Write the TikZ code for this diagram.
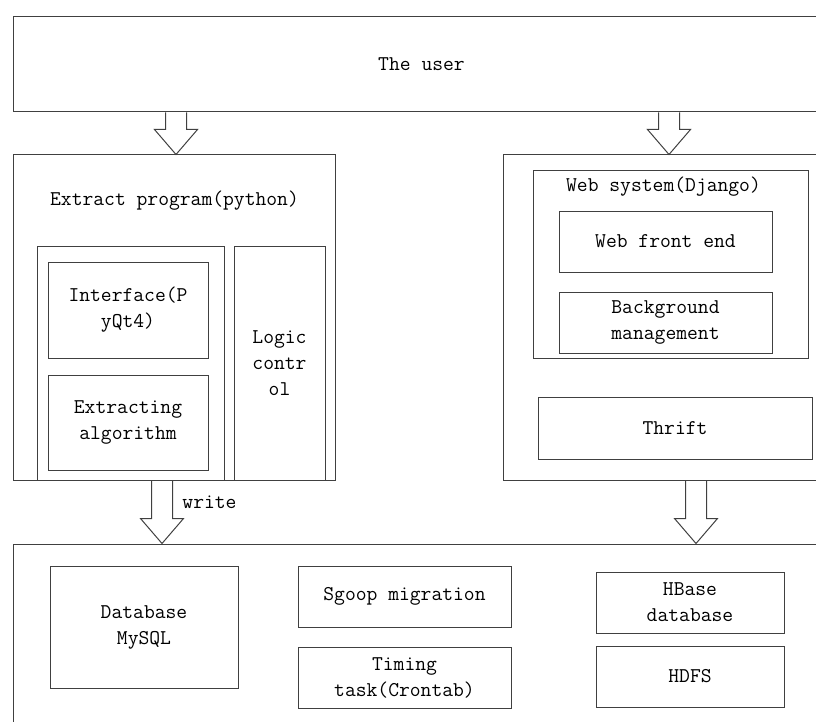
\documentclass[tikz,border=0pt]{standalone}
\usetikzlibrary{positioning,calc}

\begin{document}
\begin{tikzpicture}[x=1pt,y=-1pt,node distance=19pt,line width=1pt,
every node/.style={font=\fontsize{21}{26}\selectfont\ttfamily,text=black},
box/.style={draw=black!75,rectangle,inner sep=0pt,align=center},
hollow/.style={draw=black!75,
  to path={let \p1=(\tikztostart),\p2=(\tikztotarget) in
    (\x1-10.5pt,\y1)--(\x1-10.5pt,\y2+25pt)--(\x1-21.5pt,\y2+25pt)--(\x1,\y2)
    --(\x1+21.5pt,\y2+25pt)--(\x1+10.5pt,\y2+25pt)--(\x1+10.5pt,\y1)}}]
\clip (0,0) rectangle (816,722);
% top layer
\node[box,minimum width=817pt,minimum height=95pt] (user) at (421.5,64.5) {The user};
% extraction side
\node[box,minimum width=322pt,minimum height=325pt] (ext) at (174,317.5) {};
\node (exttitle) at (174.5,201) {Extract program(python)};
\node[box,minimum width=187pt,minimum height=234pt] (ui) at (130.5,363) {};
\node[box,minimum width=91pt,minimum height=234pt] (logic) at (279.5,363) {Logic\\contr\\ol};
\node[box,minimum width=160pt,minimum height=96pt] (iface) at (128,310) {Interface(P\\yQt4)};
\node[box,minimum width=160pt,minimum height=95pt,below=16pt of iface] (extalg) {Extracting\\algorithm};
% web side
\node[box,minimum width=327pt,minimum height=325pt] (web) at (666.5,317.5) {};
\node[box,minimum width=275pt,minimum height=187pt] (websys) at (670.5,264.5) {};
\node (webtitle) at (663.5,187) {Web system(Django)};
\node[box,minimum width=213pt,minimum height=61pt] (front) at (665.5,241.5) {Web front end};
\node[box,minimum width=213pt,minimum height=61pt,below=19pt of front] (backg) {Background\\management};
\node[box,minimum width=274pt,minimum height=62pt] (thrift) at (675,428) {Thrift};
% storage layer
\node[box,minimum width=817pt,minimum height=200pt] (store) at (421.5,644) {};
\node[box,minimum width=188pt,minimum height=122pt] (mysql) at (144,627) {Database\\MySQL};
\node[box,minimum width=213pt,minimum height=61pt] (sqoop) at (404.5,596.5) {Sgoop migration};
\node[box,minimum width=213pt,minimum height=61pt,below=19pt of sqoop] (cron) {Timing\\task(Crontab)};
\node[box,minimum width=188pt,minimum height=61pt] (hbase) at (690,602.5) {HBase\\database};
\node[box,minimum width=188pt,minimum height=61pt] (hdfs) at (690,676.5) {HDFS};
% arrows
\draw[hollow] (user.south -| 176,0) to (ext.north -| 176,0);
\draw[hollow] (user.south -| 669,0) to (web.north -| 669,0);
\draw[hollow] (ext.south -| 162,0) to (store.north -| 162,0);
\draw[hollow] (web.south -| 696,0) to (store.north -| 696,0);
\node (write) at (209.5,502) {write};
\end{tikzpicture}
\end{document}
